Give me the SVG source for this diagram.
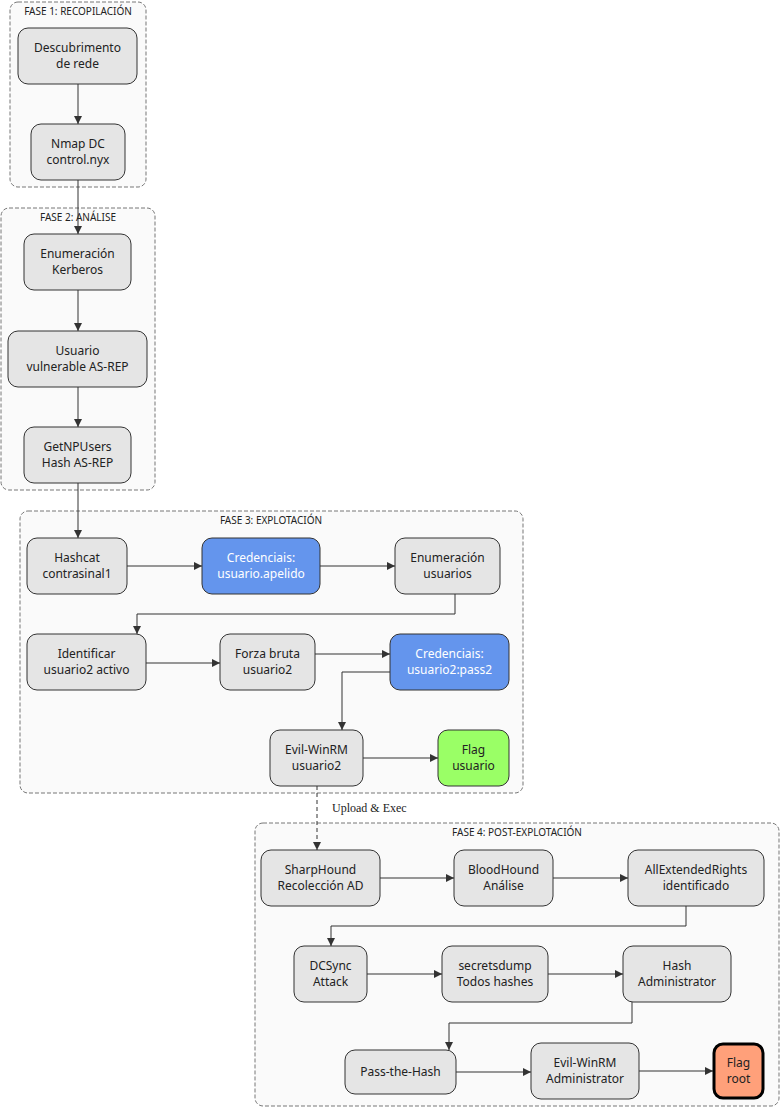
<svg xmlns="http://www.w3.org/2000/svg" width="781" height="1108" viewBox="0 0 781 1108">
<style>
.cl{fill:#fafafa;stroke:#777;stroke-dasharray:4 2;stroke-width:1}
.ct{font-family:"Noto Sans",sans-serif;font-size:10px;fill:#222;text-anchor:middle}
.n rect{fill:#e5e5e5;stroke:#333;stroke-width:1}
.n text{font-family:"Noto Sans",sans-serif;font-size:12px;fill:#222;text-anchor:middle}
.b rect{fill:#6495ed}
.b text{fill:#fff}
.g rect{fill:#9aff66}
.o rect{fill:#ffa07a;stroke:#000;stroke-width:3}
.e path{fill:none;stroke:#333;stroke-width:1}
</style>
<defs><marker id="a" viewBox="0 0 10 10" refX="10" refY="5" markerWidth="8" markerHeight="8" markerUnits="userSpaceOnUse" orient="auto"><path d="M0,0L10,5L0,10z" fill="#333"/></marker></defs>
<g id="clusters">
<rect class="cl" x="10" y="2" width="136" height="185" rx="8"/><text class="ct" x="78" y="15">FASE 1: RECOPILACIÓN</text>
<rect class="cl" x="1" y="208" width="154" height="282" rx="8"/><text class="ct" x="78" y="221">FASE 2: ANÁLISE</text>
<rect class="cl" x="20" y="511" width="503" height="282" rx="8"/><text class="ct" x="271" y="524">FASE 3: EXPLOTACIÓN</text>
<rect class="cl" x="255" y="823" width="524" height="283" rx="8"/><text class="ct" x="517" y="836">FASE 4: POST-EXPLOTACIÓN</text>
</g>
<g class="e" id="edges">
<path d="M78,84V124" marker-end="url(#a)"/>
<path d="M78,180V234" marker-end="url(#a)"/>
<path d="M78,290V331" marker-end="url(#a)"/>
<path d="M78,387V427" marker-end="url(#a)"/>
<path d="M78,483V538" marker-end="url(#a)"/>
<path d="M127,566H202" marker-end="url(#a)"/>
<path d="M320,566H395" marker-end="url(#a)"/>
<path d="M455,594V614H137V634" marker-end="url(#a)"/>
<path d="M146,663H220" marker-end="url(#a)"/>
<path d="M315,654H390" marker-end="url(#a)"/>
<path d="M390,672H342V730" marker-end="url(#a)"/>
<path d="M363,758H438" marker-end="url(#a)"/>
<path d="M317,786V850" stroke-dasharray="4 3" marker-end="url(#a)"/>
<text x="332" y="812" font-family="Liberation Serif,serif" font-size="12" fill="#222">Upload &amp; Exec</text>
<path d="M380,878H454" marker-end="url(#a)"/>
<path d="M553,878H628" marker-end="url(#a)"/>
<path d="M686,906V926H331V946" marker-end="url(#a)"/>
<path d="M367,974H442" marker-end="url(#a)"/>
<path d="M548,974H623" marker-end="url(#a)"/>
<path d="M632,1002V1023H449V1050" marker-end="url(#a)"/>
<path d="M456,1072H531" marker-end="url(#a)"/>
<path d="M639,1071H713" marker-end="url(#a)"/>
</g>
<g class="n" id="n1"><rect x="18" y="28" width="119" height="56" rx="10"/><text x="77.5" y="52">Descubrimento</text><text x="77.5" y="68">de rede</text></g>
<g class="n" id="n2"><rect x="31" y="124" width="94" height="56" rx="10"/><text x="78" y="148">Nmap DC</text><text x="78" y="164">control.nyx</text></g>
<g class="n" id="n3"><rect x="24" y="234" width="107" height="56" rx="10"/><text x="77.5" y="258">Enumeración</text><text x="77.5" y="274">Kerberos</text></g>
<g class="n" id="n4"><rect x="8" y="331" width="139" height="56" rx="10"/><text x="77.5" y="355">Usuario</text><text x="77.5" y="371">vulnerable AS-REP</text></g>
<g class="n" id="n5"><rect x="24" y="427" width="107" height="56" rx="10"/><text x="77.5" y="451">GetNPUsers</text><text x="77.5" y="467">Hash AS-REP</text></g>
<g class="n" id="n6"><rect x="27" y="538" width="100" height="56" rx="10"/><text x="77" y="562">Hashcat</text><text x="77" y="578">contrasinal1</text></g>
<g class="n b" id="n7"><rect x="202" y="538" width="118" height="56" rx="10"/><text x="261" y="562">Credenciais:</text><text x="261" y="578">usuario.apelido</text></g>
<g class="n" id="n8"><rect x="395" y="538" width="105" height="56" rx="10"/><text x="447.5" y="562">Enumeración</text><text x="447.5" y="578">usuarios</text></g>
<g class="n" id="n9"><rect x="27" y="634" width="119" height="56" rx="10"/><text x="86.5" y="658">Identificar</text><text x="86.5" y="674">usuario2 activo</text></g>
<g class="n" id="n10"><rect x="220" y="634" width="95" height="56" rx="10"/><text x="267.5" y="658">Forza bruta</text><text x="267.5" y="674">usuario2</text></g>
<g class="n b" id="n11"><rect x="390" y="634" width="119" height="56" rx="10"/><text x="449.5" y="658">Credenciais:</text><text x="449.5" y="674">usuario2:pass2</text></g>
<g class="n" id="n12"><rect x="270" y="730" width="93" height="56" rx="10"/><text x="316.5" y="754">Evil-WinRM</text><text x="316.5" y="770">usuario2</text></g>
<g class="n g" id="n13"><rect x="438" y="730" width="71" height="56" rx="10"/><text x="473.5" y="754">Flag</text><text x="473.5" y="770">usuario</text></g>
<g class="n" id="n14"><rect x="261" y="850" width="119" height="56" rx="10"/><text x="320.5" y="874">SharpHound</text><text x="320.5" y="890">Recolección AD</text></g>
<g class="n" id="n15"><rect x="454" y="850" width="99" height="56" rx="10"/><text x="503.5" y="874">BloodHound</text><text x="503.5" y="890">Análise</text></g>
<g class="n" id="n16"><rect x="628" y="850" width="136" height="56" rx="10"/><text x="696" y="874">AllExtendedRights</text><text x="696" y="890">identificado</text></g>
<g class="n" id="n17"><rect x="294" y="946" width="73" height="56" rx="10"/><text x="330.5" y="970">DCSync</text><text x="330.5" y="986">Attack</text></g>
<g class="n" id="n18"><rect x="442" y="946" width="106" height="56" rx="10"/><text x="495" y="970">secretsdump</text><text x="495" y="986">Todos hashes</text></g>
<g class="n" id="n19"><rect x="623" y="946" width="108" height="56" rx="10"/><text x="677" y="970">Hash</text><text x="677" y="986">Administrator</text></g>
<g class="n" id="n20"><rect x="345" y="1050" width="111" height="44" rx="10"/><text x="400.5" y="1076">Pass-the-Hash</text></g>
<g class="n" id="n21"><rect x="531" y="1043" width="108" height="56" rx="10"/><text x="585" y="1067">Evil-WinRM</text><text x="585" y="1083">Administrator</text></g>
<g class="n o" id="n22"><rect x="714" y="1044" width="49" height="54" rx="9"/><text x="738.5" y="1067">Flag</text><text x="738.5" y="1083">root</text></g>
</svg>
